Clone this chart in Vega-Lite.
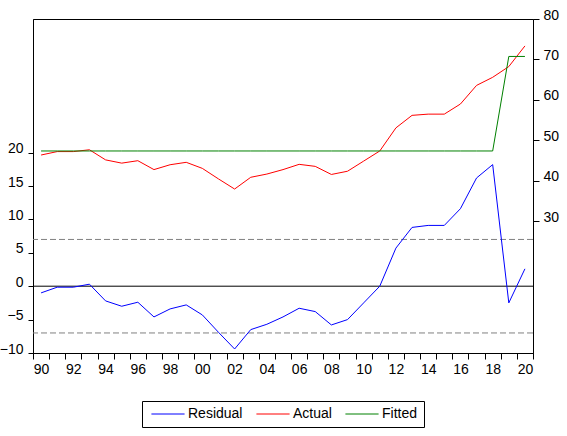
{
  "$schema": "https://vega.github.io/schema/vega-lite/v6.json",
  "width": 500,
  "height": 334,
  "autosize": {"type": "none"},
  "padding": {"left": 33, "top": 19, "right": 34, "bottom": 83},
  "background": "white",
  "config": {
    "view": {"stroke": "black", "strokeWidth": 1},
    "font": "Liberation Sans",
    "axis": {
      "grid": false,
      "domainColor": "black",
      "domainWidth": 1,
      "tickColor": "black",
      "tickWidth": 1,
      "labelColor": "black",
      "labelFont": "Liberation Sans",
      "labelFontSize": 14,
      "labelOverlap": false,
      "labelFlush": false,
      "labelBound": false,
      "title": null
    },
    "legend": {
      "title": null,
      "orient": "none",
      "direction": "horizontal",
      "legendX": 109,
      "legendY": 382,
      "strokeColor": "black",
      "padding": 6,
      "symbolType": "M-5,0H5",
      "symbolSize": 44,
      "symbolStrokeWidth": 1,
      "symbolOffset": 13,
      "labelFont": "Liberation Sans",
      "labelFontSize": 14,
      "labelColor": "black",
      "labelOffset": 13,
      "columnPadding": 10
    }
  },
  "data": {
    "values": [
      {"year": 1990, "Residual": -1.0, "Fitted": 47.4, "Actual": 46.4},
      {"year": 1991, "Residual": -0.15, "Fitted": 47.4, "Actual": 47.25},
      {"year": 1992, "Residual": -0.15, "Fitted": 47.4, "Actual": 47.25},
      {"year": 1993, "Residual": 0.3, "Fitted": 47.4, "Actual": 47.7},
      {"year": 1994, "Residual": -2.2, "Fitted": 47.4, "Actual": 45.2},
      {"year": 1995, "Residual": -3.0, "Fitted": 47.4, "Actual": 44.4},
      {"year": 1996, "Residual": -2.4, "Fitted": 47.4, "Actual": 45.0},
      {"year": 1997, "Residual": -4.6, "Fitted": 47.4, "Actual": 42.8},
      {"year": 1998, "Residual": -3.4, "Fitted": 47.4, "Actual": 44.0},
      {"year": 1999, "Residual": -2.8, "Fitted": 47.4, "Actual": 44.6},
      {"year": 2000, "Residual": -4.3, "Fitted": 47.4, "Actual": 43.1},
      {"year": 2001, "Residual": -6.9, "Fitted": 47.4, "Actual": 40.5},
      {"year": 2002, "Residual": -9.4, "Fitted": 47.4, "Actual": 38.0},
      {"year": 2003, "Residual": -6.5, "Fitted": 47.4, "Actual": 40.9},
      {"year": 2004, "Residual": -5.7, "Fitted": 47.4, "Actual": 41.7},
      {"year": 2005, "Residual": -4.6, "Fitted": 47.4, "Actual": 42.8},
      {"year": 2006, "Residual": -3.3, "Fitted": 47.4, "Actual": 44.1},
      {"year": 2007, "Residual": -3.8, "Fitted": 47.4, "Actual": 43.6},
      {"year": 2008, "Residual": -5.8, "Fitted": 47.4, "Actual": 41.6},
      {"year": 2009, "Residual": -5.0, "Fitted": 47.4, "Actual": 42.4},
      {"year": 2010, "Residual": -2.5, "Fitted": 47.4, "Actual": 44.9},
      {"year": 2011, "Residual": 0.0, "Fitted": 47.4, "Actual": 47.4},
      {"year": 2012, "Residual": 5.7, "Fitted": 47.4, "Actual": 53.1},
      {"year": 2013, "Residual": 8.8, "Fitted": 47.4, "Actual": 56.2},
      {"year": 2014, "Residual": 9.1, "Fitted": 47.4, "Actual": 56.5},
      {"year": 2015, "Residual": 9.1, "Fitted": 47.4, "Actual": 56.5},
      {"year": 2016, "Residual": 11.6, "Fitted": 47.4, "Actual": 59.0},
      {"year": 2017, "Residual": 16.2, "Fitted": 47.4, "Actual": 63.6},
      {"year": 2018, "Residual": 18.2, "Fitted": 47.4, "Actual": 65.6},
      {"year": 2019, "Residual": -2.5, "Fitted": 70.75, "Actual": 68.25},
      {"year": 2020, "Residual": 2.6, "Fitted": 70.75, "Actual": 73.35}
    ]
  },
  "layer": [
    {
      "layer": [
        {
          "data": {"values": [{"ref": 7}, {"ref": -7}]},
          "mark": {"type": "rule", "color": "#808080", "strokeWidth": 1, "strokeDash": [6, 3]},
          "encoding": {"y": {"field": "ref", "type": "quantitative"}}
        },
        {
          "data": {"values": [{"ref": 0}]},
          "mark": {"type": "rule", "color": "black", "strokeWidth": 1},
          "encoding": {"y": {"field": "ref", "type": "quantitative"}}
        },
        {
          "mark": {"type": "line", "strokeWidth": 1},
          "encoding": {
            "x": {
              "field": "year",
              "type": "quantitative",
              "scale": {"domain": [1989.5, 2020.5], "nice": false, "zero": false},
              "axis": {
                "values": [1989.5, 1990, 1990.5, 1991.5, 1992, 1992.5, 1993.5, 1994, 1994.5, 1995.5, 1996, 1996.5, 1997.5, 1998, 1998.5, 1999.5, 2000, 2000.5, 2001.5, 2002, 2002.5, 2003.5, 2004, 2004.5, 2005.5, 2006, 2006.5, 2007.5, 2008, 2008.5, 2009.5, 2010, 2010.5, 2011.5, 2012, 2012.5, 2013.5, 2014, 2014.5, 2015.5, 2016, 2016.5, 2017.5, 2018, 2018.5, 2019.5, 2020, 2020.5],
                "tickSize": 6,
                "tickOpacity": {"condition": {"test": "datum.value % 1 == 0", "value": 0}, "value": 1},
                "labelPadding": 3,
                "labelExpr": "datum.value % 1 != 0 ? '' : slice('0' + (datum.value % 100), -2)"
              }
            },
            "y": {
              "field": "Residual",
              "type": "quantitative",
              "scale": {"domain": [-10, 40], "nice": false, "zero": false},
              "axis": {
                "orient": "left",
                "values": [-10, -5, 0, 5, 10, 15, 20],
                "tickSize": 5,
                "labelPadding": 5,
                "labelOffset": -4
              }
            },
            "color": {
              "datum": "Residual",
              "type": "nominal",
              "scale": {"domain": ["Residual", "Actual", "Fitted"], "range": ["#0000ff", "#ff0000", "#008000"]},
              "legend": {"title": null}
            }
          }
        }
      ]
    },
    {
      "transform": [{"fold": ["Actual", "Fitted"], "as": ["series", "val"]}],
      "mark": {"type": "line", "strokeWidth": 1},
      "encoding": {
        "x": {
          "field": "year",
          "type": "quantitative",
          "scale": {"domain": [1989.5, 2020.5], "nice": false, "zero": false},
          "axis": {
            "values": [1989.5, 1990, 1990.5, 1991.5, 1992, 1992.5, 1993.5, 1994, 1994.5, 1995.5, 1996, 1996.5, 1997.5, 1998, 1998.5, 1999.5, 2000, 2000.5, 2001.5, 2002, 2002.5, 2003.5, 2004, 2004.5, 2005.5, 2006, 2006.5, 2007.5, 2008, 2008.5, 2009.5, 2010, 2010.5, 2011.5, 2012, 2012.5, 2013.5, 2014, 2014.5, 2015.5, 2016, 2016.5, 2017.5, 2018, 2018.5, 2019.5, 2020, 2020.5],
            "tickSize": 6,
            "tickOpacity": {"condition": {"test": "datum.value % 1 == 0", "value": 0}, "value": 1},
            "labelPadding": 3,
            "labelExpr": "datum.value % 1 != 0 ? '' : slice('0' + (datum.value % 100), -2)"
          }
        },
        "y": {
          "field": "val",
          "type": "quantitative",
          "scale": {"domain": [-2.5, 80], "nice": false, "zero": false},
          "axis": {
            "orient": "right",
            "values": [30, 40, 50, 60, 70, 80],
            "tickSize": 6,
            "labelPadding": 4,
            "labelOffset": -4
          }
        },
        "color": {
          "field": "series",
          "type": "nominal",
          "scale": {"domain": ["Residual", "Actual", "Fitted"], "range": ["#0000ff", "#ff0000", "#008000"]},
          "legend": {"title": null}
        }
      }
    }
  ],
  "resolve": {"scale": {"y": "independent"}}
}
